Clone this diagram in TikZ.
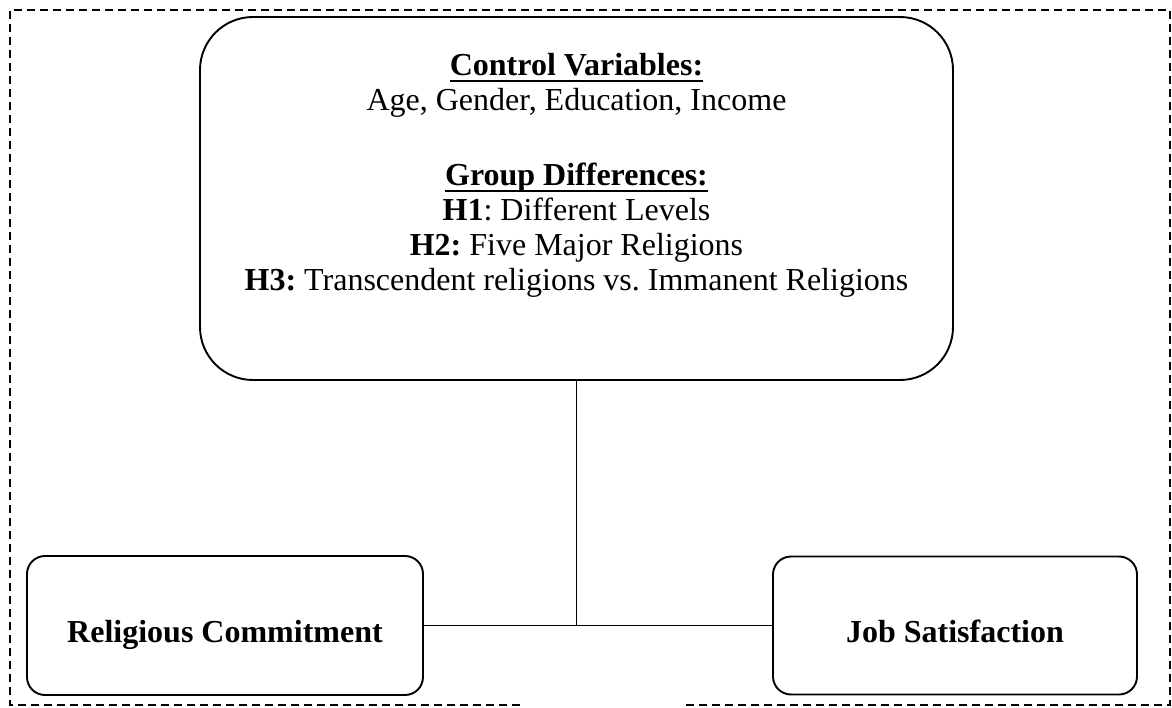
\documentclass[tikz,border=0pt]{standalone}
\usepackage{fontspec}
\setmainfont{Liberation Serif}
\newcommand\myul[1]{\setbox0\hbox{#1}\rlap{\rule[-6.5pt]{\wd0}{2.4pt}}\box0}
\begin{document}
\begin{tikzpicture}[x=1pt,y=-1pt,
  box/.style={draw,line width=1.9pt,rounded corners=18pt,inner sep=0pt},
  bigbox/.style={draw,line width=1.9pt,rounded corners=53pt,inner sep=0pt,minimum width=753pt,minimum height=363pt},
  txt/.style={font=\fontsize{32}{35}\selectfont\frenchspacing,align=center,inner sep=0pt},
  lbl/.style={text height=33pt,text depth=0pt},
  conn/.style={line width=1.9pt},
  frame/.style={line width=1.6pt,dash pattern=on 8pt off 5pt}]
\useasboundingbox (0,0) rectangle (1172,708);
\draw[frame] (520,705) -- (10,705) -- (10,10) -- (1170,10) -- (1170,705) -- (682,705);
\node[bigbox] (ctrl) at (576.5,198.5) {};
\node[txt,anchor=north] (ctrltext) at (576.5,53) {\myul{\textbf{Control Variables:}}\\
Age, Gender, Education, Income\\[40pt]
\myul{\textbf{Group Differences:}}\\
\textbf{H1}: Different Levels\\
\textbf{H2:} Five Major Religions\\
\textbf{H3:} Transcendent religions vs. Immanent Religions};
\node[box,txt,lbl,minimum width=396pt,minimum height=139pt] (rc) at (225,625.5) {\textbf{Religious Commitment}};
\node[box,txt,lbl,minimum width=364pt,minimum height=138pt] (js) at (955,625.5) {\textbf{Job Satisfaction}};
\draw[conn] (rc.east) -- (js.west);
\draw[conn] (ctrl.south) -- (ctrl.south |- rc.east);
\end{tikzpicture}
\end{document}
